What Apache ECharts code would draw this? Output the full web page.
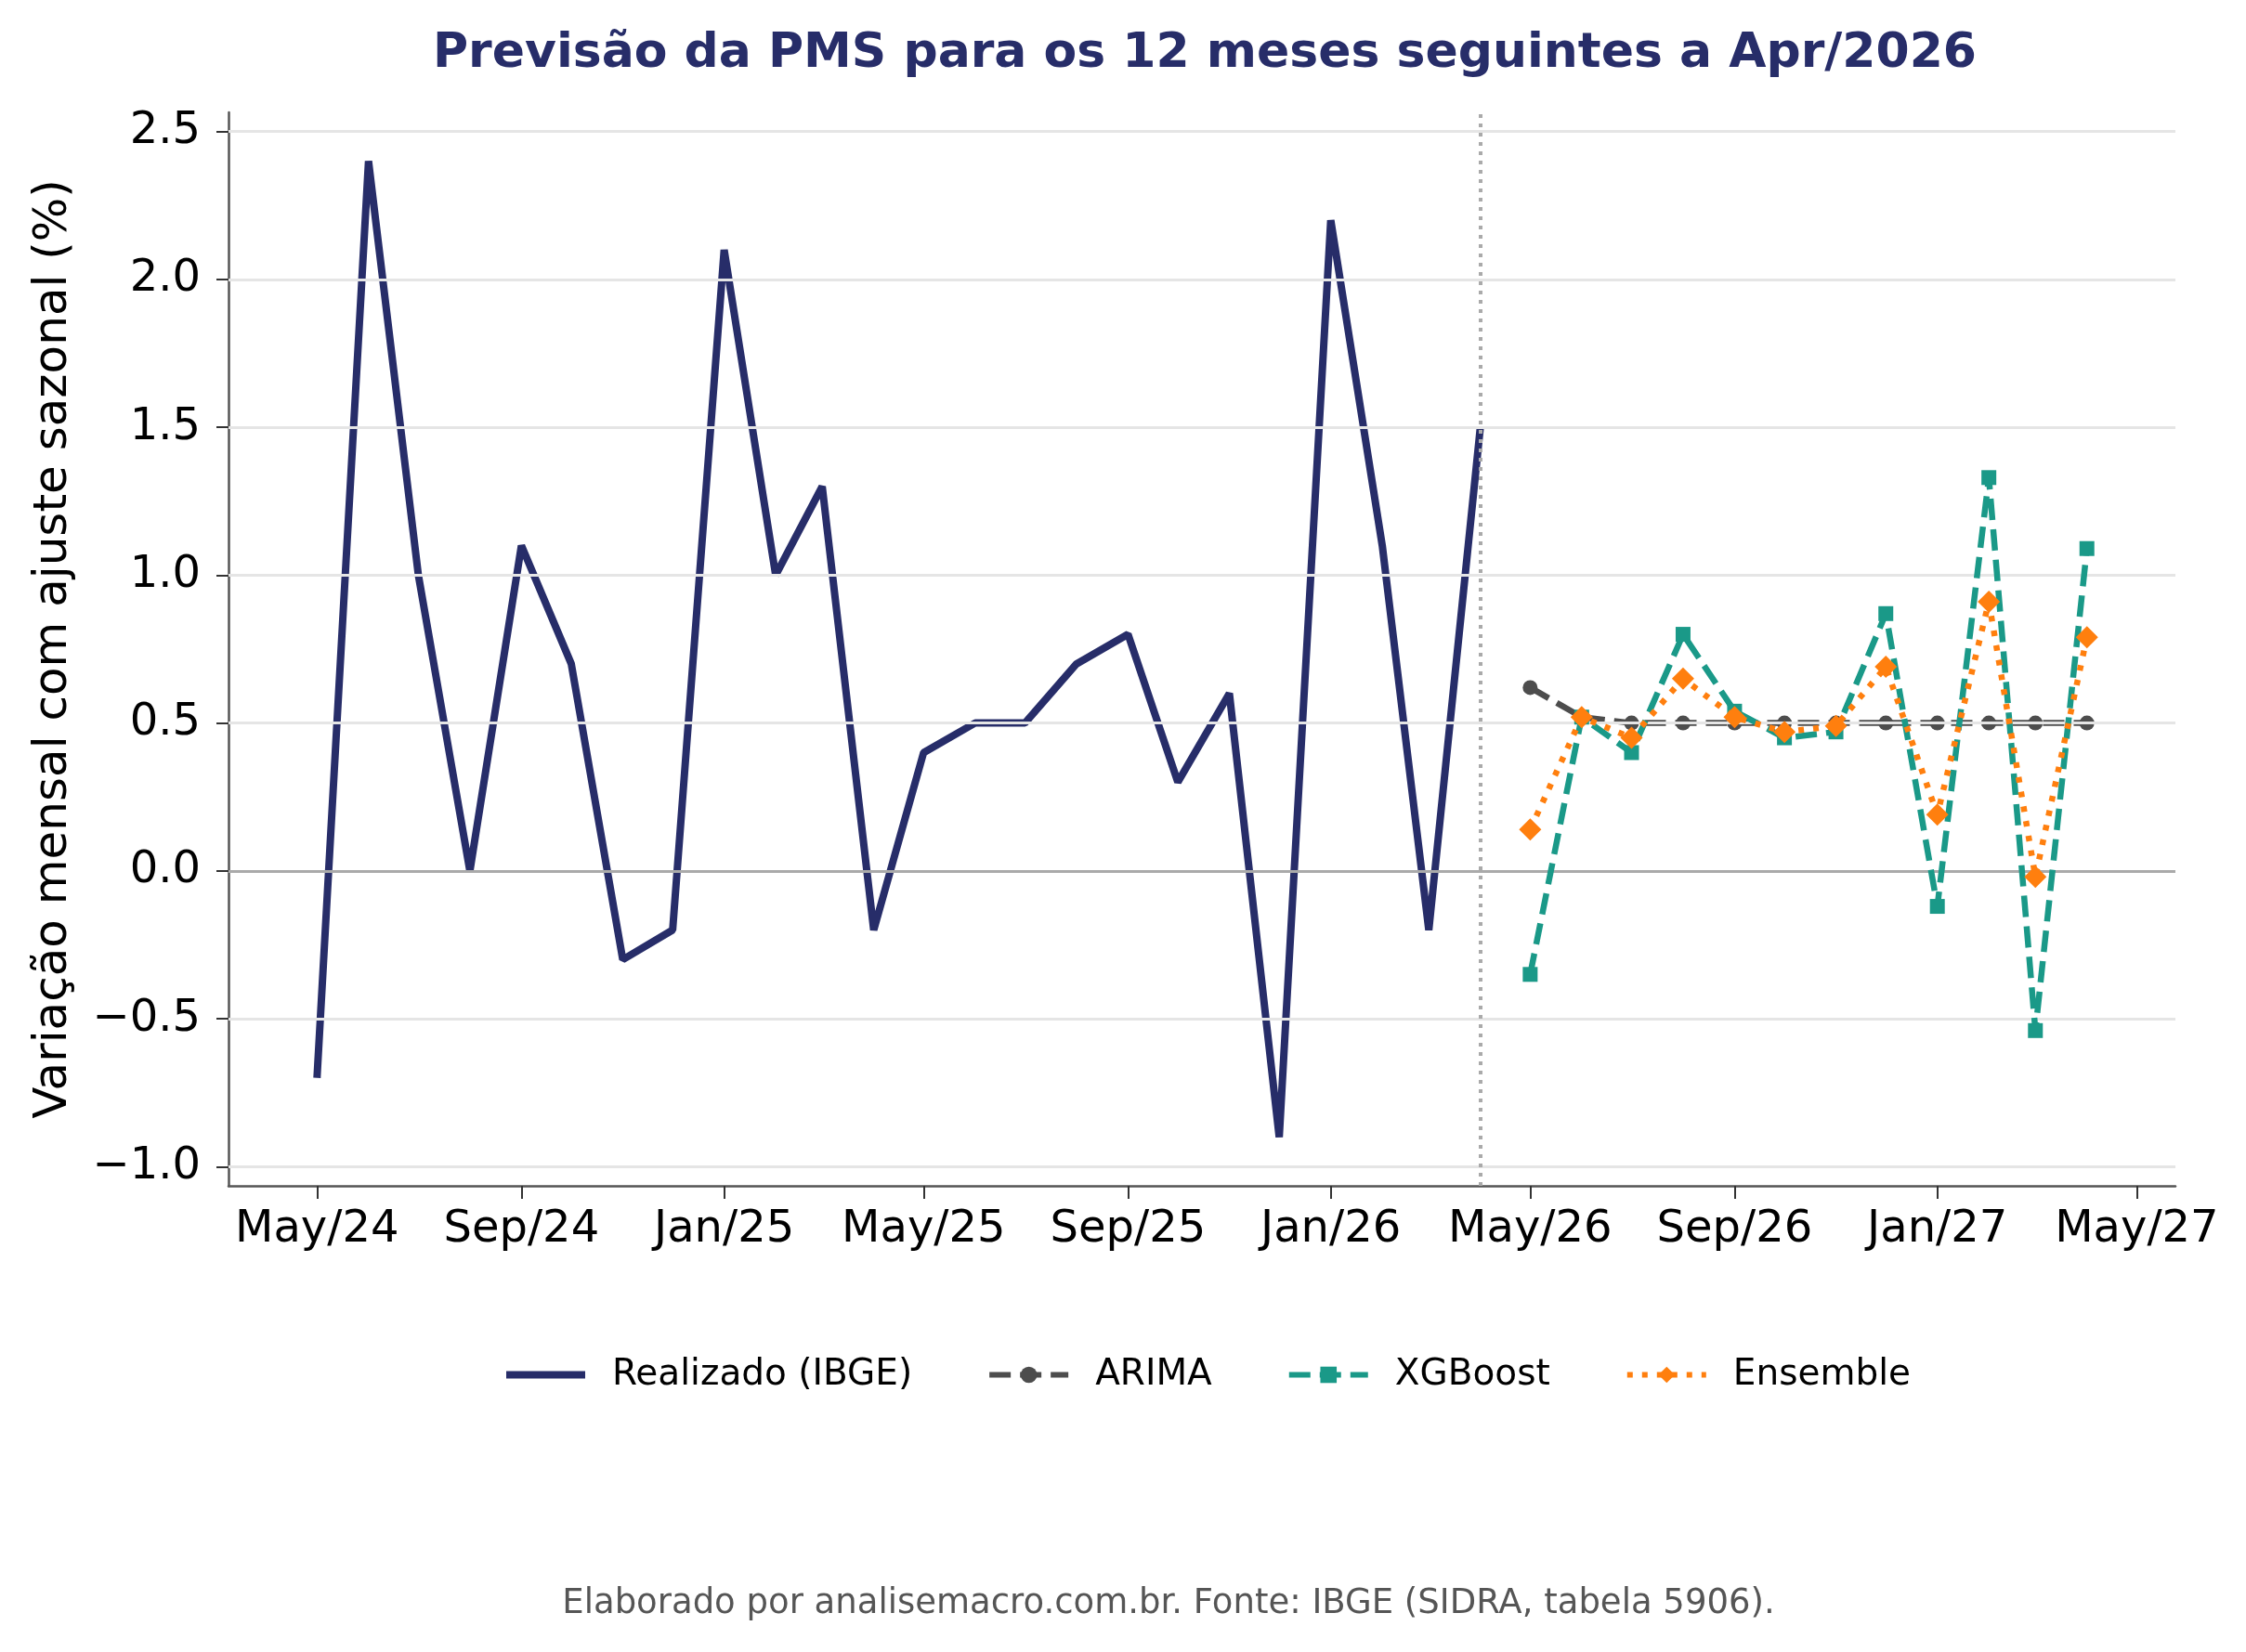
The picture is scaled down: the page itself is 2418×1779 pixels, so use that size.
<!DOCTYPE html>
<html>
<head>
<meta charset="utf-8">
<script src="https://cdn.jsdelivr.net/npm/echarts@6/dist/echarts.min.js"></script>
<style>
  html, body { margin: 0; padding: 0; background: #fff; }
  #chart { width: 2418px; height: 1779px; }
</style>
</head>
<body>
<div id="chart"></div>
<script>
// realizado (IBGE)
const realizedMonths = ['2024-05', '2024-06', '2024-07', '2024-08', '2024-09', '2024-10', '2024-11', '2024-12',
  '2025-01', '2025-02', '2025-03', '2025-04', '2025-05', '2025-06', '2025-07', '2025-08', '2025-09', '2025-10',
  '2025-11', '2025-12', '2026-01', '2026-02', '2026-03', '2026-04'];
const realized = [-0.7, 2.4, 1.0, 0.0, 1.1, 0.7, -0.3, -0.2, 2.1, 1.0, 1.3, -0.2,
  0.4, 0.5, 0.5, 0.7, 0.8, 0.3, 0.6, -0.9, 2.2, 1.1, -0.2, 1.5];

// previsoes
const forecastMonths = ['2026-05', '2026-06', '2026-07', '2026-08', '2026-09', '2026-10',
  '2026-11', '2026-12', '2027-01', '2027-02', '2027-03', '2027-04'];
const arima = [0.62, 0.52, 0.50, 0.50, 0.50, 0.50, 0.50, 0.50, 0.50, 0.50, 0.50, 0.50];
const xgboost = [-0.35, 0.52, 0.40, 0.80, 0.54, 0.45, 0.47, 0.87, -0.12, 1.33, -0.54, 1.09];
const ensemble = [0.14, 0.52, 0.45, 0.65, 0.52, 0.47, 0.49, 0.69, 0.19, 0.91, -0.02, 0.79];

// ticks
const xTickMonths = ['2024-05', '2024-09', '2025-01', '2025-05', '2025-09', '2026-01',
  '2026-05', '2026-09', '2027-01', '2027-05'];
const yTicks = [-1.0, -0.5, 0.0, 0.5, 1.0, 1.5, 2.0, 2.5];
const monthNames = ['Jan', 'Feb', 'Mar', 'Apr', 'May', 'Jun', 'Jul', 'Aug', 'Sep', 'Oct', 'Nov', 'Dec'];

function toTs(m) {
  const p = m.split('-');
  return Date.UTC(+p[0], +p[1] - 1, 1);
}
function pairs(months, vals) {
  return months.map((m, i) => [toTs(m), vals[i]]);
}

const FONT = 'DejaVu Sans';
const first = toTs(realizedMonths[0]);
const last = toTs(forecastMonths[forecastMonths.length - 1]);
const xPad = (last - first) * 0.05;
const yPad = (2.4 - (-0.9)) * 0.05;
const cutoff = toTs(realizedMonths[realizedMonths.length - 1]);
const xTickValues = xTickMonths.map(toTs);

const chart = echarts.init(document.getElementById('chart'));
const option = {
  animation: false,
  backgroundColor: '#ffffff',
  title: {
    text: 'Previsão da PMS para os 12 meses seguintes a Apr/2026',
    left: 1292,
    textAlign: 'center',
    top: 27,
    textStyle: { fontFamily: FONT, fontSize: 52, fontWeight: 'bold', color: '#272d69' }
  },
  legend: {
    data: [
      { name: 'Realizado (IBGE)', icon: 'path://M0,0H85V8H0Z' },
      { name: 'ARIMA', lineStyle: { width: 6 } },
      { name: 'XGBoost', lineStyle: { width: 6 } },
      { name: 'Ensemble', lineStyle: { width: 6 } }
    ],
    left: 540,
    top: 1456,
    itemWidth: 85,
    itemHeight: 22,
    itemGap: 80,
    textStyle: { fontFamily: FONT, fontSize: 39, color: '#000', padding: [0, 0, 0, 24] }
  },
  grid: { left: 246, right: 76, top: 121, bottom: 502, containLabel: false },
  xAxis: {
    type: 'value',
    min: first - xPad,
    max: last + xPad,
    axisLine: { onZero: false, lineStyle: { color: '#555', width: 2.5 } },
    axisTick: { show: true, length: 14, lineStyle: { color: '#333', width: 2 },
      customValues: xTickValues },
    axisLabel: {
      customValues: xTickValues,
      fontFamily: FONT, fontSize: 48, color: '#000', margin: 24,
      formatter: function (v) {
        const d = new Date(v);
        return monthNames[d.getUTCMonth()] + '/' + String(d.getUTCFullYear()).slice(2);
      }
    },
    splitLine: { show: false }
  },
  yAxis: {
    type: 'value',
    min: -0.9 - yPad,
    max: 2.4 + yPad,
    name: 'Variação mensal com ajuste sazonal (%)',
    nameLocation: 'middle',
    nameGap: 163,
    nameTextStyle: { fontFamily: FONT, fontSize: 50, color: '#000' },
    axisLine: { show: true, onZero: false, lineStyle: { color: '#555', width: 2.5 } },
    axisTick: { show: true, length: 13, lineStyle: { color: '#333', width: 2 }, customValues: yTicks },
    axisLabel: {
      customValues: yTicks,
      fontFamily: FONT, fontSize: 48, color: '#000', margin: 30,
      formatter: function (v) { return v.toFixed(1).replace('-', '\u2212'); }
    },
    splitLine: { show: false }
  },
  graphic: [{
    type: 'text',
    x: 1258, y: 1727,
    style: {
      text: 'Elaborado por analisemacro.com.br. Fonte: IBGE (SIDRA, tabela 5906).',
      fontFamily: FONT, fontSize: 37, fill: '#555',
      textAlign: 'center', textVerticalAlign: 'middle'
    }
  }],
  series: [
    {
      name: 'guides',
      type: 'line',
      data: [],
      z: 1,
      silent: true,
      markLine: {
        silent: true,
        symbol: 'none',
        label: { show: false },
        data: yTicks.map(v => ({ yAxis: v, lineStyle: { color: '#e5e5e5', width: 3, type: 'solid' } }))
          .concat([
            { yAxis: 0, lineStyle: { color: '#aaaaaa', width: 3, type: 'solid' } },
            { xAxis: cutoff, lineStyle: { color: '#aaaaaa', width: 4, type: [4, 6] } }
          ])
      }
    },
    {
      name: 'Realizado (IBGE)',
      type: 'line',
      data: pairs(realizedMonths, realized),
      symbol: 'none',
      color: '#272d69',
      lineStyle: { color: '#272d69', width: 8 },
      z: 3
    },
    {
      name: 'ARIMA',
      type: 'line',
      data: pairs(forecastMonths, arima),
      symbol: 'circle',
      symbolSize: 16,
      color: '#4d4d4d',
      itemStyle: { color: '#4d4d4d' },
      lineStyle: { color: '#4d4d4d', width: 6.5, type: [23, 10] },
      z: 4
    },
    {
      name: 'XGBoost',
      type: 'line',
      data: pairs(forecastMonths, xgboost),
      symbol: 'rect',
      symbolSize: 16,
      color: '#1a9988',
      itemStyle: { color: '#1a9988' },
      lineStyle: { color: '#1a9988', width: 6.5, type: [23, 10] },
      z: 5
    },
    {
      name: 'Ensemble',
      type: 'line',
      data: pairs(forecastMonths, ensemble),
      symbol: 'diamond',
      symbolSize: 24,
      color: '#ff7f0e',
      itemStyle: { color: '#ff7f0e' },
      lineStyle: { color: '#ff7f0e', width: 6.5, type: [6, 10] },
      z: 6
    }
  ]
};
chart.setOption(option);
</script>
</body>
</html>
